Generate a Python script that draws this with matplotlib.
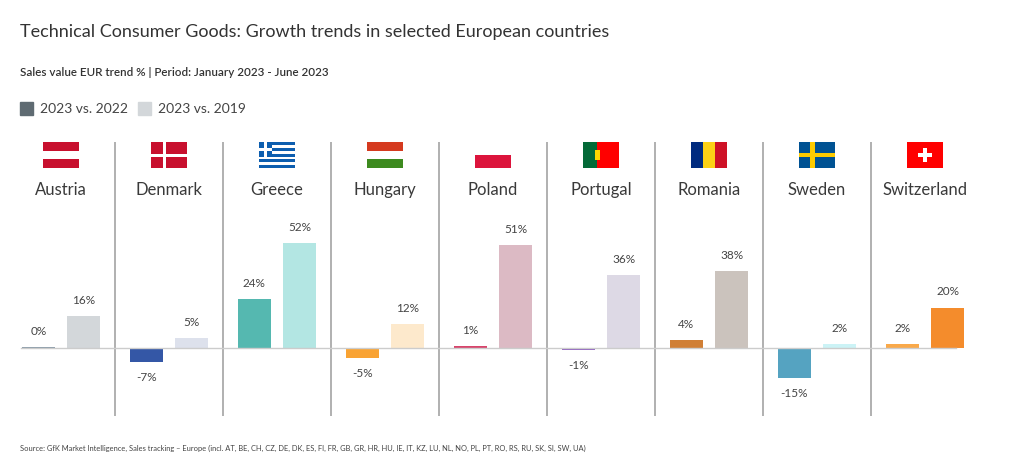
import matplotlib
matplotlib.use("Agg")
import matplotlib.pyplot as plt
from matplotlib.patches import Rectangle

countries = ["Austria", "Denmark", "Greece", "Hungary", "Poland", "Portugal", "Romania", "Sweden", "Switzerland"]
v2022 = [0.3, -7, 24, -5, 1, -1, 4, -15, 2]
v2019 = [16, 5, 52, 12, 51, 36, 38, 2, 20]
c2022 = ["#8a9ba8", "#3457a6", "#55b8b0", "#f9a333", "#d7446b", "#8e5fc0", "#d07f35", "#55a3c1", "#f9a94a"]
c2019 = ["#d3d7da", "#dde1ec", "#b3e6e3", "#fde9cc", "#dcbac4", "#ddd9e5", "#cbc3bd", "#ccf3f6", "#f48c2c"]
series = ["2023 vs. 2022", "2023 vs. 2019"]

plt.rcParams['font.family'] = ['Lato', 'DejaVu Sans']
fig = plt.figure(figsize=(10.23, 4.73), dpi=100)
W, H = 1023, 473
ax = fig.add_axes([7 / W, 1 - 416 / H, 972 / W, 274 / H])
ax.set_xlim(-0.5, 8.5)
ax.set_ylim(-33.7, 102)
ax.axis("off")

off, bw = 0.21, 0.3
for i in range(len(countries)):
    for x, v, c in ((i - off, v2022[i], c2022[i]), (i + off, v2019[i], c2019[i])):
        ax.bar(x, v, bw, color=c, zorder=2)
        lab = f"{round(v)}%"
        if v >= 0:
            ax.text(x, v + 5, lab, ha="center", va="bottom", fontsize=8.5, color="#444")
        else:
            ax.text(x, v - 5, lab, ha="center", va="top", fontsize=8.5, color="#444")
    ax.text(i, 78, countries[i], ha="center", va="center", fontsize=12, color="#3a3a3a")
    if i > 0:
        ax.plot([i - 0.5, i - 0.5], [-33.7, 102], color="#aaaaaa", lw=1.3, zorder=1)
ax.plot([-0.37, 8.29], [0, 0], color="#cccccc", lw=1, zorder=3)

fw, fh, ft = 0.333, 13, 102
def rect(x0, y0, w, h, c, z=4):
    ax.add_patch(Rectangle((x0, y0), w, h, color=c, lw=0, zorder=z))
def flag(i, name):
    x0 = i - fw / 2
    y0 = ft - fh
    if name == "Austria":
        rect(x0, y0, fw, fh / 3, "#c8102e"); rect(x0, y0 + 2 * fh / 3, fw, fh / 3, "#c8102e")
    elif name == "Denmark":
        rect(x0, y0, fw, fh, "#c8102e")
        rect(x0 + fw * 0.32, y0, fw * 0.1, fh, "white"); rect(x0, y0 + fh * 0.44, fw, fh * 0.12, "white")
    elif name == "Greece":
        for k in range(9):
            rect(x0, y0 + k * fh / 9, fw, fh / 9, "#0d5eaf" if k % 2 == 0 else "white")
        rect(x0, y0 + fh * 4 / 9, fw * 0.37, fh * 5 / 9, "#0d5eaf")
        rect(x0, y0 + fh * 6 / 9, fw * 0.37, fh / 9, "white"); rect(x0 + fw * 0.14, y0 + fh * 4 / 9, fw * 0.09, fh * 5 / 9, "white")
    elif name == "Hungary":
        rect(x0, y0 + 2 * fh / 3, fw, fh / 3, "#d53a1f"); rect(x0, y0, fw, fh / 3, "#3d8a1f")
    elif name == "Poland":
        rect(x0, y0, fw, fh / 2, "#dc143c")
    elif name == "Portugal":
        rect(x0, y0, fw * 0.4, fh, "#046a38"); rect(x0 + fw * 0.4, y0, fw * 0.6, fh, "#ff0000")
        rect(x0 + fw * 0.33, y0 + fh * 0.3, fw * 0.14, fh * 0.4, "#ffd700", 5)
    elif name == "Romania":
        rect(x0, y0, fw / 3, fh, "#002b7f"); rect(x0 + fw / 3, y0, fw / 3, fh, "#fcd116"); rect(x0 + 2 * fw / 3, y0, fw / 3, fh, "#ce1126")
    elif name == "Sweden":
        rect(x0, y0, fw, fh, "#005293")
        rect(x0 + fw * 0.3, y0, fw * 0.14, fh, "#fecb00"); rect(x0, y0 + fh * 0.41, fw, fh * 0.18, "#fecb00")
    elif name == "Switzerland":
        rect(x0, y0, fw, fh, "#ff0000")
        rect(x0 + fw * 0.44, y0 + fh * 0.22, fw * 0.12, fh * 0.56, "white"); rect(x0 + fw * 0.3, y0 + fh * 0.41, fw * 0.4, fh * 0.18, "white")
for i, n in enumerate(countries):
    flag(i, n)

fig.text(20 / W, 1 - 32 / H, "Technical Consumer Goods: Growth trends in selected European countries",
         fontsize=13, color="#333", va="center")
fig.text(20 / W, 1 - 72 / H, "Sales value EUR trend % | Period: January 2023 - June 2023",
         fontsize=8.4, color="#333", va="center", fontweight="semibold")
lx = [20, 138]
lc = ["#5f6b72", "#d3d7da"]
for x, s, c in zip(lx, series, lc):
    fig.patches.append(Rectangle((x / W, 1 - 115 / H), 13 / W, 13 / H, transform=fig.transFigure, color=c))
    fig.text((x + 20) / W, 1 - 108.5 / H, s, fontsize=10, color="#444", va="center")
fig.text(20 / W, 1 - 448 / H,
         "Source: GfK Market Intelligence, Sales tracking \u2013 Europe (incl. AT, BE, CH, CZ, DE, DK, ES, FI, FR, GB, GR, HR, HU, IE, IT, KZ, LU, NL, NO, PL, PT, RO, RS, RU, SK, SI, SW, UA)",
         fontsize=5.4, color="#444", va="center")
fig.savefig("out.png", dpi=100)
